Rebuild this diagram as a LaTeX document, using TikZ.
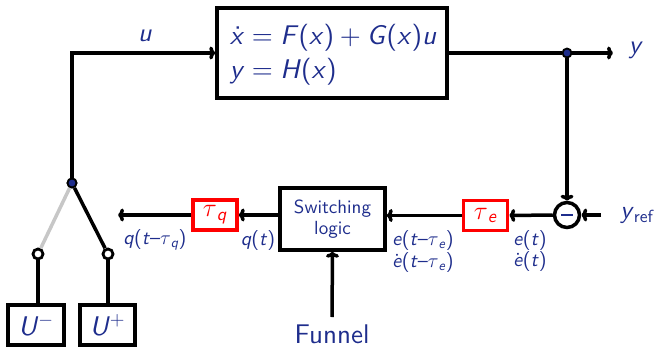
\RequirePackage{fix-cm}
\documentclass[tikz,border=0pt]{standalone}
\usepackage{fontspec}
\setsansfont{lmsans10-regular.otf}[ItalicFont=lmsans10-oblique.otf, BoldFont=lmsans10-bold.otf]
\usetikzlibrary{arrows.meta}
\definecolor{tblue}{RGB}{30,45,140}
\newcommand{\fz}[1]{\sffamily\fontsize{#1}{#1}\selectfont}
\newcommand{\vi}[1]{\textit{#1}}
\newcommand{\sub}[1]{\textsubscript{\textit{#1}}}
\newcommand{\mrel}{\hspace{0.28em}}
\newcommand{\mbin}{\hspace{0.22em}}
\begin{document}
\begin{tikzpicture}[x=1pt,y=-1pt, line width=3.5pt, >={To[length=6pt,width=13pt]},
  blk/.style={draw, line width=3.5pt, text=tblue, inner sep=0pt},
  dly/.style={draw=red, line width=3.5pt, text=red, inner sep=0pt, minimum width=44pt, minimum height=30pt, font=\fz{26}},
  lbl/.style={text=tblue, inner sep=0pt, font=\fz{20}},
  dot/.style={circle, draw=black, fill=tblue, line width=1.8pt, minimum size=9pt, inner sep=0pt},
  odot/.style={circle, draw=black, fill=white, line width=2.8pt, minimum size=10pt, inner sep=0pt}]
\useasboundingbox (0,0) rectangle (658,348);
% plant
\node[blk, minimum width=230pt, minimum height=90pt] (plant) at (332,53) {};
\node[text=tblue, anchor=west, align=left, inner sep=0pt, font=\fz{27}] (eqs) at (228,55) {\.{\vi{x}}\mrel=\mrel\vi{F}(\vi{x})\mbin+\mbin\vi{G}(\vi{x})\vi{u}\\[7pt] \vi{y}\mrel=\mrel\vi{H}(\vi{x})};
% output
\node[dot] (ydot) at (567,53) {};
\coordinate (ytip) at (613,53);
\node[text=tblue, inner sep=0pt, font=\fz{26}] (ylab) at (636,50) {\vi{y}};
\draw (plant.east) -- (ydot);
\draw[->] (ydot) -- (ytip);
% sum
\node[circle, draw, line width=3.5pt, minimum size=25pt, inner sep=0pt, text=tblue] (sum) at (567,215) {\rule{12pt}{1.2pt}};
\draw[->] (ydot) -- (sum.north);
\coordinate (yrefs) at (601,215);
\node[text=tblue, inner sep=0pt, font=\fz{25}] (yref) at (637,216) {\vi{y}\textsubscript{ref}};
\draw[->] (yrefs) -- (sum.east);
% delays and switching
\node[dly] (taue) at (485.5,215.5) {$\tau$\sub{e}};
\node[blk, minimum width=105pt, minimum height=62pt, align=center, font=\fz{19}] (sw) at (332.5,219) {Switching\\[2pt]logic};
\node[dly] (tauq) at (215,215) {$\tau$\sub{q}};
\coordinate (qend) at (118,215);
\draw[->] (sum.west) -- (taue.east);
\draw[->] (taue.west) -- (sw.east |- taue.west);
\draw[->] (sw.west |- tauq.east) -- (tauq.east);
\draw[->] (tauq.west) -- (qend);
% labels
\node[lbl] (e1) at (530,240) {\vi{e}(\vi{t})};
\node[lbl] (e2) at (530,261) {\.{\vi{e}}(\vi{t})};
\node[lbl] (e3) at (423,240) {\vi{e}(\vi{t}--$\tau$\sub{e})};
\node[lbl] (e4) at (423,262) {\.{\vi{e}}(\vi{t}--$\tau$\sub{e})};
\node[lbl] (q1) at (258,240) {\vi{q}(\vi{t})};
\node[lbl] (q2) at (155,240) {\vi{q}(\vi{t}--$\tau$\sub{q})};
% funnel
\node[text=tblue, inner sep=0pt, font=\fz{27}] (fun) at (332,334) {Funnel};
\draw[->] (332,317) -- (sw.south);
% switch
\node[dot] (sdot) at (72,183) {};
\node[text=tblue, inner sep=0pt, font=\fz{26}] (ulab) at (145,36) {\vi{u}};
\draw[->] (sdot) |- (plant.west);
\node[odot] (om) at (38,254) {};
\node[odot] (op) at (108,254) {};
\node[blk, minimum width=56pt, minimum height=40pt, font=\fz{27}] (Um) at (36,325) {\vi{U}\textsuperscript{$-$}};
\node[blk, minimum width=55pt, minimum height=40pt, font=\fz{27}] (Up) at (107.5,325) {\vi{U}\textsuperscript{+}};
\draw[black!22] (sdot) -- (om);
\draw (sdot) -- (op);
\draw (om) -- (om |- Um.north);
\draw (op) -- (op |- Up.north);
\node[dot] at (72,183) {};
\end{tikzpicture}
\end{document}
